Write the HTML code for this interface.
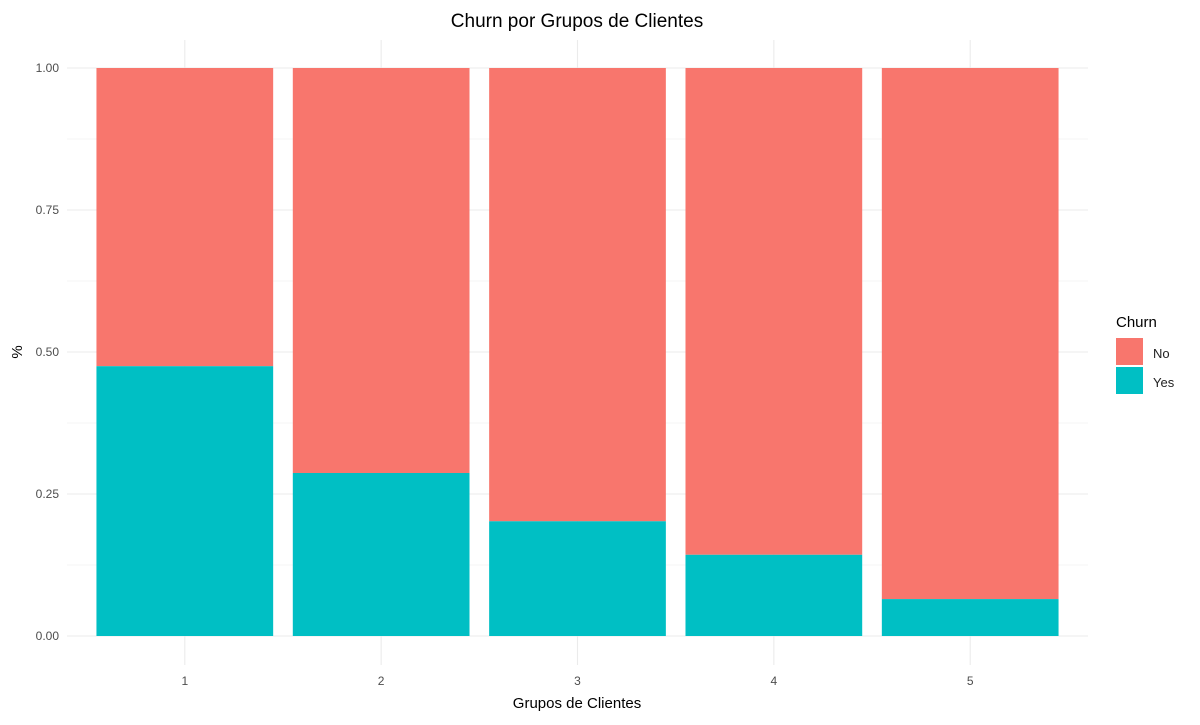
<!DOCTYPE html>
<html><head><meta charset="utf-8"><style>
body{margin:0;background:#fff;font-family:"Liberation Sans",sans-serif}
</style></head><body>
<svg width="1200" height="720" xmlns="http://www.w3.org/2000/svg">
<g id="grid"></g><g id="bars"></g><g id="axes"></g>
<text x="577" y="27" text-anchor="middle" font-size="19" fill="#000">Churn por Grupos de Clientes</text>
<text x="577" y="708" text-anchor="middle" font-size="15" fill="#000">Grupos de Clientes</text>
<text transform="translate(22,352) rotate(-90)" text-anchor="middle" font-size="15" fill="#000">%</text>
<g>
<text x="1116" y="327" font-size="15" fill="#000">Churn</text>
<rect x="1116" y="338" width="27" height="27" fill="#F8766D"/>
<text x="1153" y="358" font-size="13" fill="#222">No</text>
<rect x="1116" y="367" width="27" height="27" fill="#00BFC4"/>
<text x="1153" y="387" font-size="13" fill="#222">Yes</text>
</g>
</svg>
<script>
const categories=["1","2","3","4","5"];
const yesValues=[0.475,0.287,0.202,0.143,0.065];
const yTicks=[0,0.25,0.5,0.75,1];
const yTickLabels=["0.00","0.25","0.50","0.75","1.00"];
const NS="http://www.w3.org/2000/svg";
const L=67,R=1088,Y0=636,Y1=68;
const step=(R-L)/(categories.length+0.2);
const x=i=>L+(i+0.6)*step;
const y=v=>Y0-(Y0-Y1)*v;
function mk(t,a,p){const e=document.createElementNS(NS,t);for(const k in a)e.setAttribute(k,a[k]);p.appendChild(e);return e;}
const grid=document.getElementById('grid'),bars=document.getElementById('bars'),axes=document.getElementById('axes');
for(let k=0;k<yTicks.length;k++){
 const g=mk('line',{x1:L,x2:R,y1:y(yTicks[k]),y2:y(yTicks[k]),stroke:'#ebebeb','stroke-width':1.1},grid);
 
 
 if(k<yTicks.length-1){const m=mk('line',{x1:L,x2:R,y1:y(yTicks[k]+0.125),y2:y(yTicks[k]+0.125),stroke:'#f3f3f3','stroke-width':0.8},grid);
 
 }
 const t=mk('text',{x:59,y:y(yTicks[k])+4,'text-anchor':'end','font-size':12,fill:'#4d4d4d'},axes);
 t.textContent=yTickLabels[k];
 
 
}
const bw=step*0.9;
categories.forEach((c,i)=>{
 const g=mk('line',{x1:x(i),x2:x(i),y1:40,y2:665,stroke:'#ebebeb','stroke-width':1.1},grid);
 
 
 const no=mk('rect',{x:x(i)-bw/2,y:y(1),width:bw,height:y(yesValues[i])-y(1),fill:'#F8766D'},bars);
 
 
 const ye=mk('rect',{x:x(i)-bw/2,y:y(yesValues[i]),width:bw,height:y(0)-y(yesValues[i]),fill:'#00BFC4'},bars);
 
 
 const t=mk('text',{x:x(i),y:685,'text-anchor':'middle','font-size':12,fill:'#4d4d4d'},axes);
 t.textContent=c;
 
 
});
</script>
</body></html>
